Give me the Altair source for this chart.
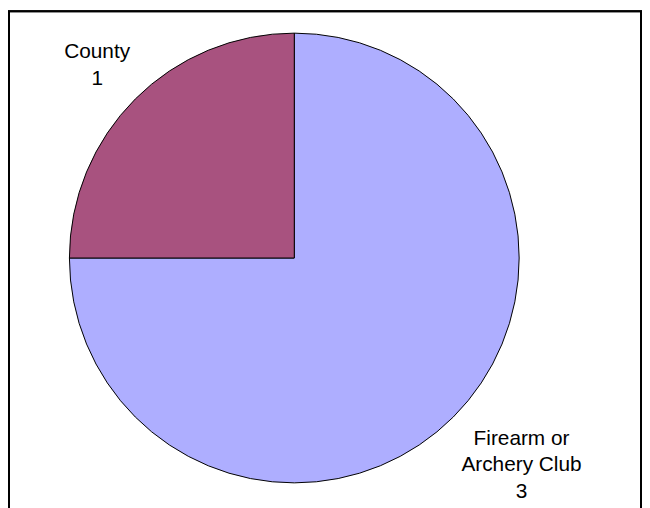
import math
import altair as alt
import pandas as pd

# data
categories = ["Firearm or\nArchery Club", "County"]
values = [3, 1]
order = [0, 1]
colors = ["#AEAEFF", "#A8527F"]

df = pd.DataFrame({"category": categories, "value": values, "ord": order})

W, H = 640, 500
CX, CY, R = 289, 250, 227

base = alt.Chart(df)

frame = base.mark_rect(fill=None, stroke="black", strokeWidth=2).encode(
    x=alt.value(1), x2=alt.value(W - 1), y=alt.value(1), y2=alt.value(H + 50)
)

pie = base.mark_arc(stroke="black", strokeWidth=1).encode(
    theta=alt.Theta("value:Q", stack=True),
    order=alt.Order("ord:Q"),
    color=alt.Color("category:N", scale=alt.Scale(domain=categories, range=colors), legend=None),
    x=alt.value(CX),
    y=alt.value(CY),
    radius=alt.value(R),
)

lab = (
    base.transform_joinaggregate(total="sum(value)")
    .transform_window(cum="sum(value)", sort=[alt.SortField("ord")])
    .transform_calculate(
        mid="(datum.cum - datum.value/2)/datum.total",
        label="datum.category + '\\n' + datum.value",
    )
)

theta_mid = alt.Theta("mid:Q", scale=alt.Scale(domain=[0, 1], range=[0, 2 * math.pi]), stack=None)

text_kw = dict(font="Liberation Sans", fontSize=21, lineBreak="\n", lineHeight=27,
               align="center", baseline="middle", color="black")

county = lab.transform_filter("datum.ord == 1").mark_text(dx=-1, dy=-10, **text_kw).encode(
    theta=theta_mid, text="label:N", x=alt.value(CX), y=alt.value(CY), radius=alt.value(280)
)
club = lab.transform_filter("datum.ord == 0").mark_text(dx=13, dy=-34, **text_kw).encode(
    theta=theta_mid, text="label:N", x=alt.value(CX), y=alt.value(CY), radius=alt.value(306)
)

chart = (
    alt.layer(pie, county, club, frame)
    .resolve_scale(theta="independent")
    .properties(width=W, height=H, autosize=alt.AutoSizeParams(type="none"), padding=0)
    .configure_view(stroke=None)
)

chart.save("out.html", embed_options={"renderer": "svg", "actions": False})
